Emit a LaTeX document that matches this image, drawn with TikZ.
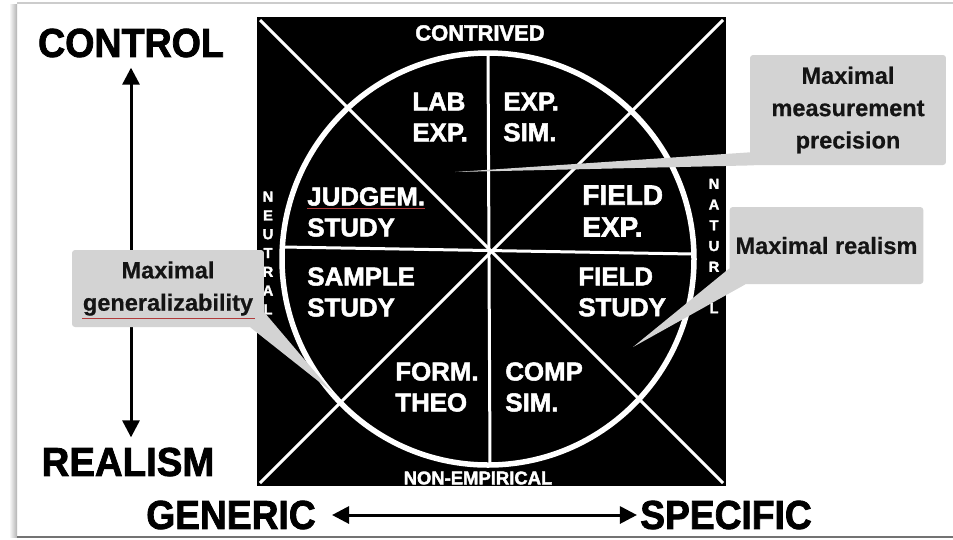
\documentclass[tikz,border=0pt]{standalone}
\usepackage{fontspec}
\setmainfont{Liberation Sans}
\newfontfamily\heavyfont[FakeBold=2]{Liberation Sans Bold}
\newfontfamily\notefont[FakeBold=0.6]{Liberation Sans Bold}
\usetikzlibrary{arrows.meta,positioning,calc}
\definecolor{callout}{HTML}{D3D3D3}
\definecolor{ink}{HTML}{141414}
\definecolor{spell}{HTML}{B03A3A}

\begin{document}
\begin{tikzpicture}[x=0.02cm,y=-0.02cm,
  sector/.style={anchor=west,inner sep=0pt,align=left,text=white,
    font=\heavyfont\fontsize{14.7}{17.6}\selectfont},
  rim/.style={inner sep=0pt,text=white,align=center,
    font=\heavyfont\fontsize{8.3}{10.7}\selectfont},
  axis/.style={inner sep=0pt,font=\heavyfont\fontsize{23}{26}\selectfont},
  axisarrow/.style={line width=0.06cm,
    {Triangle[length=0.34cm,width=0.34cm]}-{Triangle[length=0.34cm,width=0.34cm]}},
  note/.style={fill=callout,rounded corners=0.06cm,text=ink,align=center,
    font=\notefont\fontsize{13.4}{18.4}\selectfont},
  spoke/.style={white,line width=0.06cm}]
  \useasboundingbox (0,0) rectangle (953,539);
  % slide frame
  \fill[white] (0,0) rectangle (953,539);
  \shade[left color=white,right color=black!30] (9,4) rectangle (17,537);
  \draw[black!20,line width=0.03cm] (17,3) -- (953,3);
  \draw[black!55,line width=0.03cm] (17,537) -- (953,537);
  % square, spokes and circle
  \fill[black] (257,17) rectangle (726,486);
  \draw[spoke] (260,20) -- (723,483);
  \draw[spoke] (723,20) -- (260,483);
  \draw[spoke] (488,54) -- (490,464);
  \draw[spoke] (283,247) -- (693,254);
  \draw[white,line width=0.11cm] (488,259) circle (206);
  % sectors
  \node[sector] (lab) at (412,117) {LAB\\EXP.};
  \node[sector] (expsim) at (503,117) {EXP.\\SIM.};
  \node[sector] (judgem) at (307,212) {JUDGEM.\\STUDY};
  \node[sector,font=\heavyfont\fontsize{15.9}{18.1}\selectfont] (fieldexp) at (582,211) {FIELD\\EXP.};
  \node[sector] (sample) at (307,292) {SAMPLE\\STUDY};
  \node[sector] (fieldstudy) at (578,292) {FIELD\\STUDY};
  \node[sector] (formtheo) at (395,387) {FORM.\\THEO};
  \node[sector] (compsim) at (505,387) {COMP\\SIM.};
  \draw[spell,line width=0.02cm] (307,208) -- (425,208);
  % rim labels
  \node[rim,font=\heavyfont\fontsize{12.5}{14}\selectfont] (contrived) at (480,33) {CONTRIVED};
  \node[rim,font=\heavyfont\fontsize{10.5}{12}\selectfont] (nonempirical) at (478,478) {NON-EMPIRICAL};
  \node[rim] (neutral) at (268,253) {N\\E\\U\\T\\R\\A\\L};
  \node[rim,font=\heavyfont\fontsize{8.3}{11.8}\selectfont] (natural) at (714,246) {N\\A\\T\\U\\R\\A\\L};
  % axes
  \node[axis] (control) at (131,43) {\scalebox{0.93}[1]{CONTROL}};
  \node[axis] (realism) at (128,462) {\scalebox{0.95}[1]{REALISM}};
  \node[axis] (generic) at (231,515) {\scalebox{0.92}[1]{GENERIC}};
  \node[axis] (specific) at (726,515) {\scalebox{0.92}[1]{SPECIFIC}};
  \draw[axisarrow,shorten <=0.2cm,shorten >=0.2cm] (control.south) -- (control.south |- realism.north);
  \draw[axisarrow,shorten <=0.32cm,shorten >=0.06cm] (generic.east) -- (specific.west);
  % callouts
  \node[note,minimum width=3.92cm,minimum height=2.2cm] (precision) at (848,110) {Maximal\\measurement\\precision};
  \node[note,minimum width=3.86cm,minimum height=1.54cm] (realismnote) at (826.5,245.5) {Maximal realism};
  \node[note,minimum width=3.84cm,minimum height=1.54cm] (generalnote) at (168,288.5) {Maximal\\generalizability};
  \coordinate (precisiontip) at (455,172);
  \coordinate (realismtip) at (633,347);
  \coordinate (generaltip) at (332,392);
  \fill[callout] (precisiontip) -- ($(precision.south west)+(0,-13)$) -- ($(precision.south west)+(4,0)$) -- cycle;
  \fill[callout] (realismtip) -- ($(realismnote.south west)+(0,-16)$) -- ($(realismnote.south west)+(16,0)$) -- cycle;
  \fill[callout] (generaltip) -- ($(generalnote.south east)+(0,-15)$) -- ($(generalnote.south east)+(-14,0)$) -- cycle;
  \draw[spell,line width=0.02cm] (82,318) -- (255,318);
\end{tikzpicture}
\end{document}
